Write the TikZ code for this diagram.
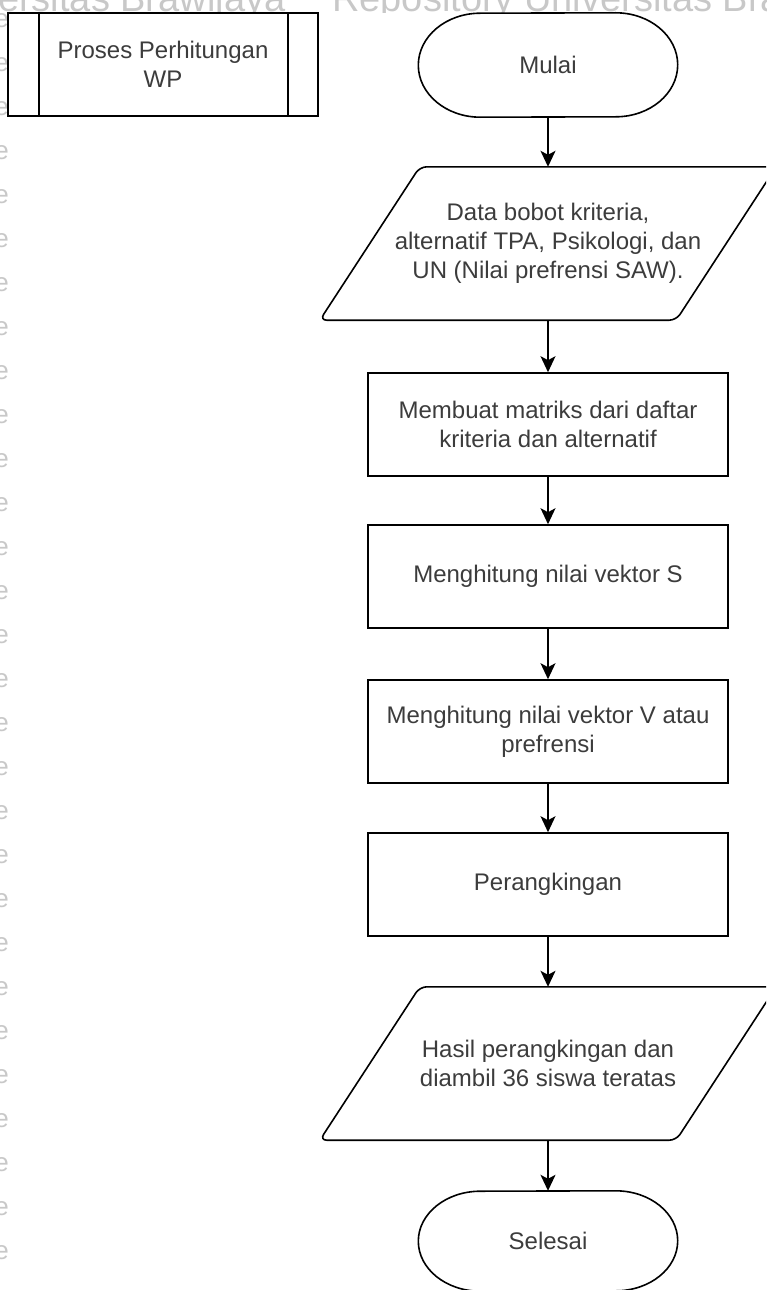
\documentclass[tikz,border=0pt]{standalone}
\usepackage{fontspec}
\setmainfont{Liberation Sans}
\usetikzlibrary{arrows.meta}
\definecolor{txt}{RGB}{60,60,60}
\definecolor{wm}{RGB}{200,200,200}

\begin{document}
\begin{tikzpicture}[x=1pt,y=-1pt,
  lbl/.style={font=\fontsize{24pt}{28.8pt}\selectfont, text=txt, align=center, inner sep=0pt},
  box/.style={lbl, draw=black, line width=1.6pt, minimum width=360pt, minimum height=103pt},
  procbox/.style={lbl, draw=black, line width=1.6pt, minimum width=310pt, minimum height=103pt},
  termshell/.style={lbl, minimum width=259pt, minimum height=#1},
  parashell/.style={lbl, minimum width=456pt, minimum height=153pt},
  outline/.style={draw=black, line width=1.6pt},
  flow/.style={draw=black, line width=1.6pt, -{Stealth[length=16pt,width=15pt,inset=4pt]}},
  wmtext/.style={text=wm, inner sep=0pt}
]
\useasboundingbox (0,0) rectangle (766,1290);
\clip (0,0) rectangle (766,1290);

% faint page watermark along the top and left edges
\begin{scope}
  \clip (0,0) rectangle (766,12.5);
  \node[wmtext, anchor=base west, font=\fontsize{38pt}{40pt}\selectfont] (wmA) at (-2,12) {ersitas Brawijaya};
  \node[wmtext, anchor=base west, font=\fontsize{38pt}{40pt}\selectfont] (wmB) at (332,12) {Repository Universitas Brawijaya};
\end{scope}
\begin{scope}
  \clip (0,13) rectangle (8,1290);
  \foreach \k in {0,...,28}
    \node[wmtext, font=\fontsize{26pt}{30pt}\selectfont] (wme\k) at (1.5,{21+44*\k}) {e};
\end{scope}

% predefined process box
\node[procbox] (proc) at (163,64.5) {Proses Perhitungan\\WP};
\draw[outline] ([xshift=32pt]proc.north west) -- ([xshift=32pt]proc.south west);
\draw[outline] ([xshift=-31pt]proc.north east) -- ([xshift=-31pt]proc.south east);

% flowchart nodes
\node[termshell=104pt] (mulai) at (548,65) {Mulai};
\node[parashell] (data) at (548,243.5) {Data bobot kriteria,\\alternatif TPA, Psikologi, dan\\UN (Nilai prefrensi SAW).};
\node[box] (matriks) at (548,424.5) {Membuat matriks dari daftar\\kriteria dan alternatif};
\node[box] (vekS) at (548,576.5) {Menghitung nilai vektor S};
\node[box] (vekV) at (548,731.5) {Menghitung nilai vektor V atau\\prefrensi};
\node[box] (rank) at (548,884.5) {Perangkingan};
\node[parashell] (hasil) at (548,1063.5) {Hasil perangkingan dan\\diambil 36 siswa teratas};
\node[termshell=100pt] (selesai) at (548,1241) {Selesai};

% terminator outlines
\foreach \t/\r in {mulai/52pt, selesai/50pt}
  \draw[outline] ([xshift=-62pt]\t.north east)
    arc[start angle=90, end angle=-90, x radius=62pt, y radius=\r]
    -- ([xshift=62pt]\t.south west)
    arc[start angle=270, end angle=90, x radius=62pt, y radius=\r] -- cycle;

% data parallelograms
\foreach \p in {data, hasil}
  \draw[outline, rounded corners=7pt] ([xshift=100pt]\p.north west) -- (\p.north east)
    -- ([xshift=-100pt]\p.south east) -- (\p.south west) -- cycle;

% connectors
\draw[flow] (mulai.south) -- (data.north);
\draw[flow] (data.south) -- (matriks.north);
\draw[flow] (matriks.south) -- (vekS.north);
\draw[flow] (vekS.south) -- (vekV.north);
\draw[flow] (vekV.south) -- (rank.north);
\draw[flow] (rank.south) -- (hasil.north);
\draw[flow] (hasil.south) -- (selesai.north);
\end{tikzpicture}
\end{document}
